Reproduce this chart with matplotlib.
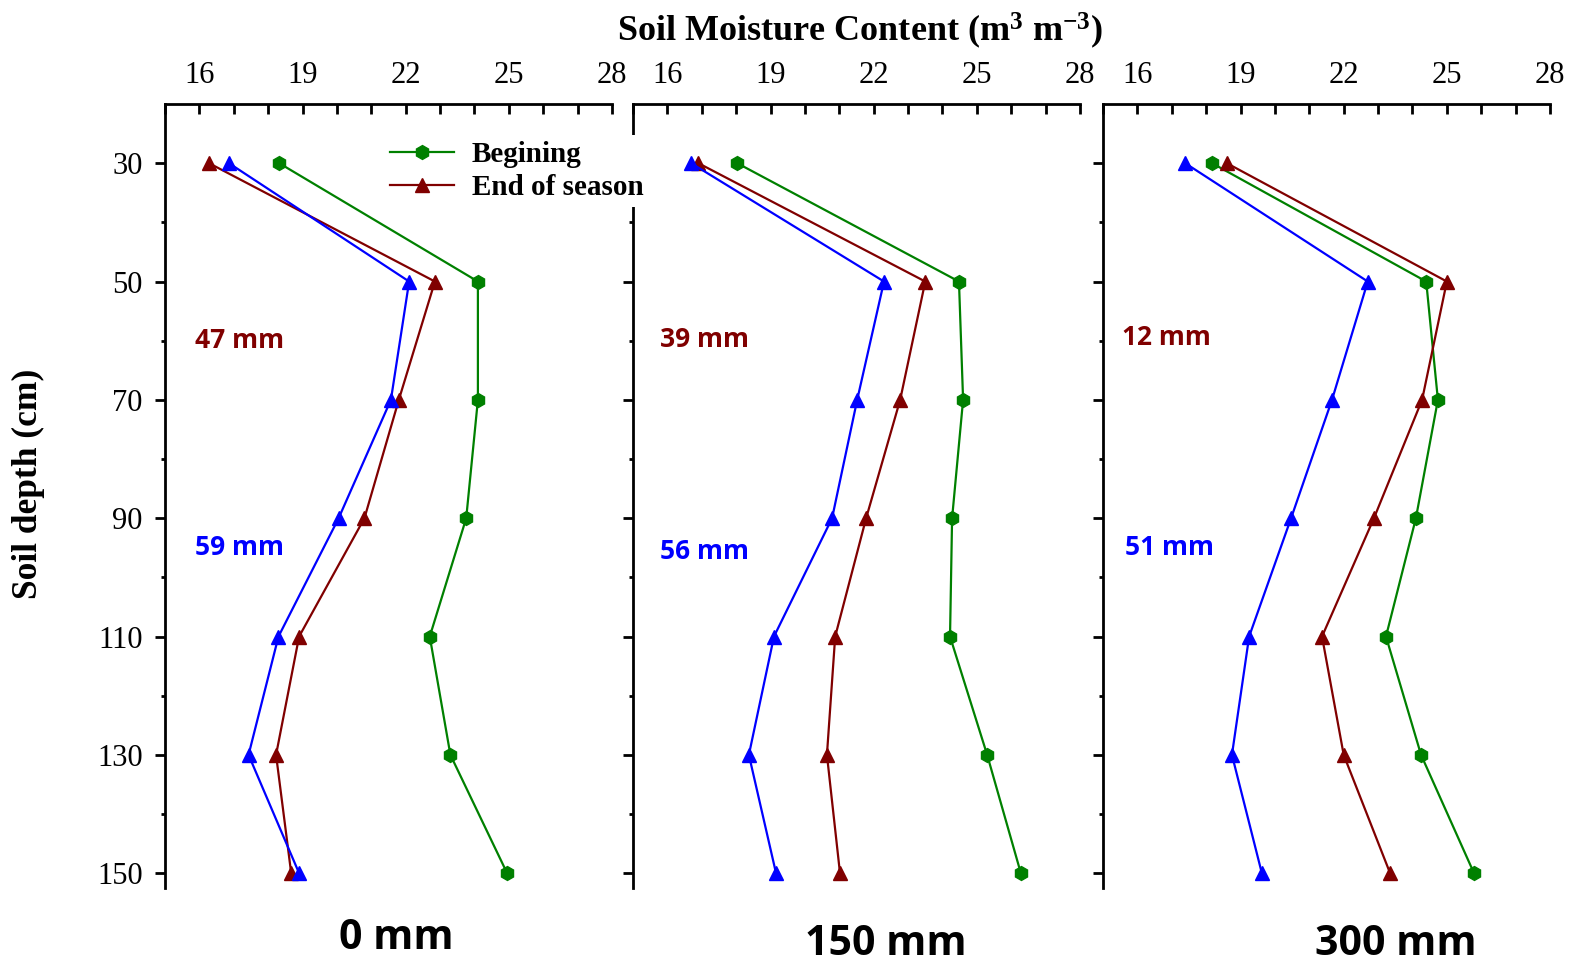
import matplotlib
matplotlib.use("Agg")
import matplotlib.pyplot as plt
from matplotlib.ticker import MultipleLocator, FixedLocator

plt.rcParams["mathtext.fontset"] = "custom"
plt.rcParams["mathtext.rm"] = "Liberation Serif"
plt.rcParams["mathtext.bf"] = "Liberation Serif:bold"
plt.rcParams["mathtext.it"] = "Liberation Serif:italic"

# ---------------- data ----------------
depth = [30, 50, 70, 90, 110, 130, 150]

panels = ["0 mm", "150 mm", "300 mm"]

begin_0 = [18.32, 24.10, 24.10, 23.76, 22.70, 23.30, 24.95]
end_0 = [16.28, 22.85, 21.80, 20.80, 18.90, 18.23, 18.67]
blue_0 = [16.86, 22.10, 21.57, 20.05, 18.30, 17.43, 18.90]

begin_150 = [18.03, 24.48, 24.60, 24.28, 24.22, 25.30, 26.28]
end_150 = [16.90, 23.50, 22.77, 21.78, 20.88, 20.64, 21.02]
blue_150 = [16.69, 22.30, 21.52, 20.79, 19.10, 18.37, 19.16]

begin_300 = [18.17, 24.40, 24.74, 24.10, 23.23, 24.25, 25.79]
end_300 = [18.60, 25.00, 24.28, 22.88, 21.37, 22.00, 23.35]
blue_300 = [17.39, 22.70, 21.66, 20.47, 19.25, 18.75, 19.62]

upper_labels = ["47 mm", "39 mm", "12 mm"]
lower_labels = ["59 mm", "56 mm", "51 mm"]

x_major = [16, 19, 22, 25, 28]
y_major = [30, 50, 70, 90, 110, 130, 150]

series = [
    (begin_0, end_0, blue_0),
    (begin_150, end_150, blue_150),
    (begin_300, end_300, blue_300),
]

# ---------------- figure ----------------
W, H = 1575, 963
fig = plt.figure(figsize=(W / 100, H / 100), dpi=100)

serif = ["Liberation Serif", "DejaVu Serif"]
sans = ["Open Sans", "Lato", "DejaVu Sans"]

GREEN = "#008000"
RED = "#800000"
BLUE = "#0000FF"

lefts = [165, 633, 1103]
ax_w = 447
top_px, bot_px = 104, 888

ann_x = [(15.87, 15.87), (15.79, 15.79), (15.55, 15.64)]
ann_y = [(60.0, 95.0), (59.8, 95.6), (59.5, 95.0)]

handles = None
for i, (b, e, bl) in enumerate(series):
    ax = fig.add_axes([lefts[i] / W, 1 - bot_px / H, ax_w / W, (bot_px - top_px) / H])
    hb, = ax.plot(b, depth, color=GREEN, marker="h", markersize=10, lw=1.6,
                  label="Begining", clip_on=False)
    he, = ax.plot(e, depth, color=RED, marker="^", markersize=10, lw=1.6,
                  label="End of season", clip_on=False)
    ax.plot(bl, depth, color=BLUE, marker="^", markersize=10, lw=1.6, clip_on=False)
    if handles is None:
        handles = [hb, he]

    ax.set_xlim(15, 28)
    ax.set_ylim(152.5, 20)

    for s in ["bottom", "right"]:
        ax.spines[s].set_visible(False)
    for s in ["top", "left"]:
        ax.spines[s].set_linewidth(2)

    ax.xaxis.tick_top()
    ax.xaxis.set_major_locator(FixedLocator(x_major))
    ax.xaxis.set_minor_locator(MultipleLocator(1))
    ax.tick_params(axis="x", which="both", direction="in", length=7, width=2,
                   top=True, bottom=False, pad=10)
    ax.tick_params(axis="x", which="major", labelsize=22)
    for lab in ax.get_xticklabels():
        lab.set_fontfamily(serif)

    ax.yaxis.set_major_locator(FixedLocator(y_major))
    ax.yaxis.set_minor_locator(FixedLocator([40, 60, 80, 100, 120, 140]))
    ax.tick_params(axis="y", which="major", direction="out", length=7, width=2,
                   labelsize=22, pad=9)
    ax.tick_params(axis="y", which="minor", direction="out", length=3, width=2)
    if i == 0:
        for lab in ax.get_yticklabels():
            lab.set_fontfamily(serif)
    else:
        ax.tick_params(axis="y", labelleft=False)

    ax.text(ann_x[i][0], ann_y[i][0], upper_labels[i], color=RED, fontsize=19,
            fontweight="bold", family=sans, va="center", ha="left")
    ax.text(ann_x[i][1], ann_y[i][1], lower_labels[i], color=BLUE, fontsize=19,
            fontweight="bold", family=sans, va="center", ha="left")

# bottom panel labels
fig.text(396 / W, 1 - 938 / H, panels[0], fontsize=29.5, fontweight="bold",
         family=sans, ha="center", va="center")
fig.text(886 / W, 1 - 944 / H, panels[1], fontsize=29.5, fontweight="bold",
         family=sans, ha="center", va="center")
fig.text(1396 / W, 1 - 944 / H, panels[2], fontsize=29.5, fontweight="bold",
         family=sans, ha="center", va="center")

# title & y label
fig.text(860 / W, 1 - 31 / H, r"Soil Moisture Content (m$^{\mathbf{3}}$ m$^{\mathbf{-3}}$)",
         fontsize=26, fontweight="bold", family=serif, ha="center", va="center")
fig.text(28 / W, 1 - 484 / H, "Soil depth (cm)", fontsize=25.5, fontweight="bold",
         family=serif, ha="center", va="center", rotation=90)

leg = fig.legend(handles, ["Begining", "End of season"], loc="upper left",
                 bbox_to_anchor=(384 / W, 1 - 135 / H), frameon=True,
                 facecolor="white", edgecolor="none", framealpha=1,
                 prop={"family": serif, "weight": "bold", "size": 21},
                 handlelength=2.2, handletextpad=0.6, labelspacing=0.22,
                 borderpad=0.2, borderaxespad=0)

fig.savefig("out.png", dpi=100)
